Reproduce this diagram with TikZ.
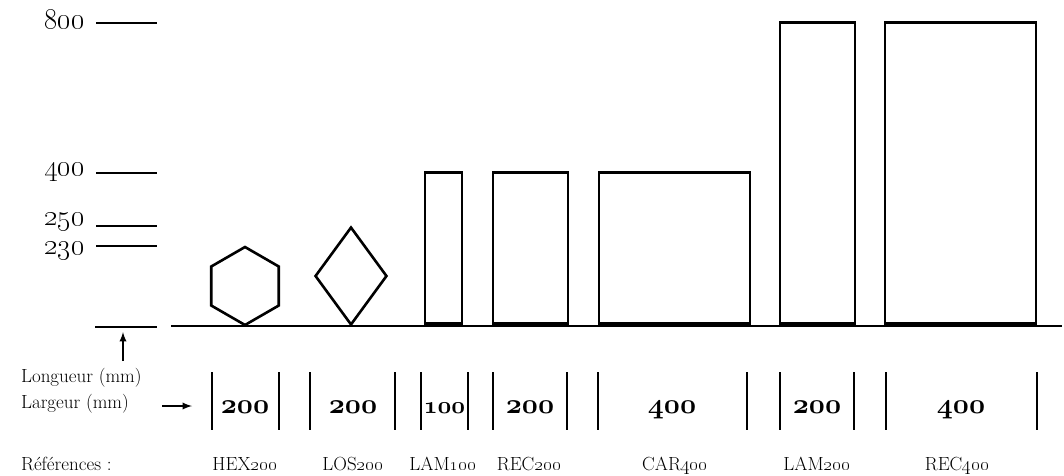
\RequirePackage{fix-cm}
\documentclass[tikz,border=0pt]{standalone}
\usepackage{tikz}
\usetikzlibrary{shapes.geometric}

\newcommand\boldnums[1]{{\fontencoding{OML}\fontfamily{cmm}\fontseries{b}\fontshape{it}\selectfont #1}}

\tikzset{
	piece/.style={draw, line width=2.6pt, inner sep=0pt},
	axisnum/.style={anchor=base east, inner sep=0pt, font=\fontsize{29}{30}\selectfont},
	widthnum/.style={anchor=base, inner sep=0pt, font=\fontsize{28}{30}\selectfont},
	reflabel/.style={anchor=base, inner sep=0pt, font=\fontsize{19}{20}\selectfont},
	legend/.style={anchor=base west, inner sep=0pt, font=\fontsize{19}{20}\selectfont}
}

\begin{document}
\begin{tikzpicture}[x=1pt, y=-1pt, line width=2.2pt]
	\useasboundingbox (0,0) rectangle (1064,475);

	\node[axisnum] (n800) at (86,28) {\oldstylenums{800}};
	\node[axisnum] (n400) at (86,175) {\oldstylenums{400}};
	\node[axisnum] (n250) at (86,225) {\oldstylenums{250}};
	\node[axisnum] (n230) at (86,254) {\oldstylenums{230}};
	\draw (96,23) -- (157,23);
	\draw (96,173) -- (157,173);
	\draw (96,226) -- (157,226);
	\draw (96,246) -- (157,246);
	\draw (95,327) -- (157,327);
	\draw[line width=2.6pt] (171,326) -- (1062,326);

	\node[piece, regular polygon, regular polygon sides=6, shape border rotate=30, minimum size=78pt] (hex) at (245,286) {};
	\node[piece, diamond, minimum width=72pt, minimum height=98pt] (los) at (351,276) {};
	\node[piece, anchor=south, minimum width=37pt, minimum height=151pt] (lam1) at (443.5,325) {};
	\node[piece, anchor=south, minimum width=75pt, minimum height=151pt] (rec2) at (530.5,325) {};
	\node[piece, anchor=south, minimum width=151pt, minimum height=151pt] (car4) at (674.5,325) {};
	\node[piece, anchor=south, minimum width=75pt, minimum height=301pt] (lam2) at (817.5,325) {};
	\node[piece, anchor=south, minimum width=151pt, minimum height=301pt] (rec4) at (960.5,325) {};

	\node[legend] (long) at (20,382) {Longueur (mm)};
	\node[legend] (larg) at (20,408) {Largeur (mm)};
	\node[legend] (refs) at (20,470) {Références :};
	\coordinate (longtip) at (123,332);
	\coordinate (longfoot) at (123,361);
	\coordinate (largfoot) at (162,406);
	\coordinate (largtip) at (192,406);
	\draw[->, >=latex] (longfoot) -- (longtip);
	\draw[->, >=latex] (largfoot) -- (largtip);

	\draw (212,372) -- (212,430);
	\draw (279,372) -- (279,430);
	\draw (310,372) -- (310,430);
	\draw (395,372) -- (395,430);
	\draw (421,372) -- (421,430);
	\draw (468,372) -- (468,430);
	\draw (493,372) -- (493,430);
	\draw (567,372) -- (567,430);
	\draw (598,372) -- (598,430);
	\draw (747,372) -- (747,430);
	\draw (780,372) -- (780,430);
	\draw (854,372) -- (854,430);
	\draw (886,372) -- (886,430);
	\draw (1037,372) -- (1037,430);

	\node[widthnum] (whex) at (245,413) {\boldnums{200}};
	\node[widthnum] (wlos) at (353,413) {\boldnums{200}};
	\node[widthnum, font=\fontsize{24}{26}\selectfont] (wlam1) at (444.5,413) {\boldnums{100}};
	\node[widthnum] (wrec2) at (530,413) {\boldnums{200}};
	\node[widthnum] (wcar4) at (672,413) {\boldnums{400}};
	\node[widthnum] (wlam2) at (817,413) {\boldnums{200}};
	\node[widthnum] (wrec4) at (961,413) {\boldnums{400}};

	\node[reflabel] (rhex) at (245,470) {HEX\oldstylenums{200}};
	\node[reflabel] (rlos) at (353,470) {LOS\oldstylenums{200}};
	\node[reflabel] (rlam1) at (443,470) {LAM\oldstylenums{100}};
	\node[reflabel] (rrec2) at (529,470) {REC\oldstylenums{200}};
	\node[reflabel] (rcar4) at (675,470) {CAR\oldstylenums{400}};
	\node[reflabel] (rlam2) at (817,470) {LAM\oldstylenums{200}};
	\node[reflabel] (rrec4) at (957,470) {REC\oldstylenums{400}};
\end{tikzpicture}
\end{document}
